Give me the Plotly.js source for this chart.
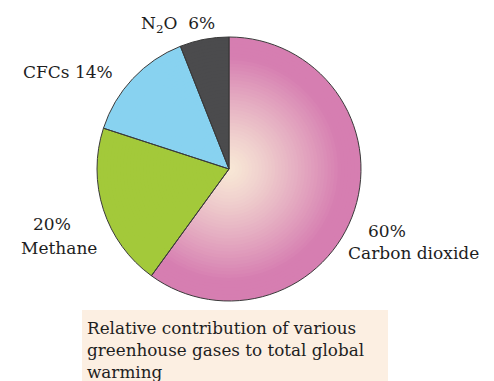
<!DOCTYPE html>
<html><head><meta charset="utf-8">
<script src="https://cdn.plot.ly/plotly-3.0.1.min.js"></script>
<style>html,body{margin:0;padding:0;background:#fff;}#chart{width:494px;height:381px;}</style>
</head><body><div id="chart"></div>
<script>
const gases = ["Carbon dioxide", "Methane", "CFCs", "N<sub>2</sub>O"];
const shares = [60, 20, 14, 6];
const caption = "Relative contribution of various<br>greenhouse gases to total global<br>warming";

const cx = 229, cy = 169, R = 132, W = 494, H = 381;
const otherColors = ["#a3c93a", "#88d2f0", "#4b4b4d"];
const inner = [248, 233, 214], outer = [214, 126, 177];
const traces = [];
const N = 40;
function dom(r) {
  return {x: [(cx - r) / W, (cx + r) / W], y: [(H - cy - r) / H, (H - cy + r) / H]};
}
for (let k = 0; k < N; k++) {
  const f = 1 - k / N;
  const t = Math.min(1, 1.2 * Math.pow(f, 1.2));
  const c = inner.map((v, i) => Math.round(v + (outer[i] - v) * t));
  traces.push({
    type: "pie", labels: gases, values: shares, sort: false, direction: "clockwise", rotation: 0,
    domain: dom(R * f), textinfo: "none", hoverinfo: "skip", showlegend: false,
    marker: {colors: ["rgb(" + c.join(",") + ")"].concat(otherColors), line: {width: 0}}
  });
}
traces.push({
  type: "pie", labels: gases, values: shares, sort: false, direction: "clockwise", rotation: 0,
  domain: dom(R), textinfo: "none", hoverinfo: "skip", showlegend: false,
  marker: {colors: ["rgba(0,0,0,0)", "rgba(0,0,0,0)", "rgba(0,0,0,0)", "rgba(0,0,0,0)"], line: {color: "#3a3a3a", width: 1}}
});

const font = {family: "DejaVu Serif, serif", size: 17, color: "#1e1e1e"};
const annotations = [
  {x: 387, y: 231, text: shares[0] + "%"},
  {x: 413, y: 253, text: gases[0]},
  {x: 52, y: 224, text: shares[1] + "%"},
  {x: 59, y: 248, text: gases[1]},
  {x: 68, y: 72, text: gases[2] + " " + shares[2] + "%"},
  {x: 178, y: 25, text: gases[3] + "  " + shares[3] + "%"}
].map(a => ({x: a.x / W, y: 1 - a.y / H, xref: "paper", yref: "paper", text: a.text, showarrow: false,
  xanchor: "center", yanchor: "middle", font: font, align: "center"}));
annotations.push({x: 85 / W, y: 1 - 316 / H, xref: "paper", yref: "paper", text: caption, showarrow: false,
  xanchor: "left", yanchor: "top", align: "left", font: {family: "DejaVu Serif, serif", size: 16.8, color: "#1e1e1e"}});

Plotly.newPlot("chart", traces, {
  width: W, height: H, margin: {l: 0, r: 0, t: 0, b: 0},
  paper_bgcolor: "#fff", plot_bgcolor: "#fff",
  shapes: [{type: "rect", xref: "paper", yref: "paper", x0: 82 / W, x1: 388 / W, y0: 0, y1: 1 - 310 / H,
    fillcolor: "#fcefe2", line: {width: 0}, layer: "below"}],
  annotations: annotations
}, {staticPlot: true});
</script></body></html>
